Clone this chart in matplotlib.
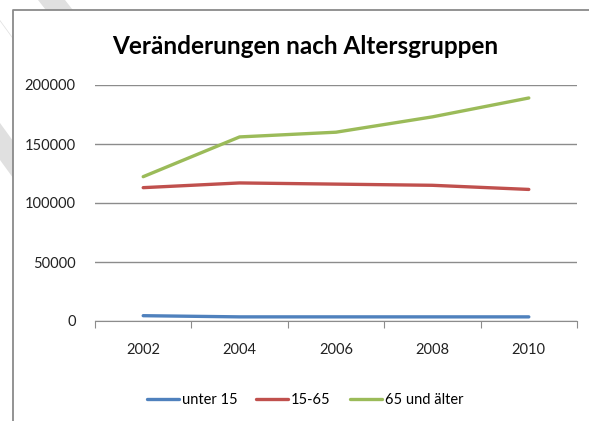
import matplotlib
matplotlib.use("Agg")
import matplotlib.pyplot as plt
from matplotlib.patches import Polygon, Rectangle
from matplotlib.lines import Line2D

years = ["2002", "2004", "2006", "2008", "2010"]
unter_15 = [4500, 3500, 3500, 3500, 3500]
mitte_15_65 = [113000, 117000, 116000, 115000, 111500]
ab_65 = [122300, 156000, 160000, 173000, 189000]

series_names = ["unter 15", "15-65", "65 und älter"]
colors = ["#4F81BD", "#C0504D", "#9BBB59"]

plt.rcParams["font.family"] = ["Lato", "DejaVu Sans"]

W, H = 589, 421
fig = plt.figure(figsize=(W / 100, H / 100), dpi=100)


# pixel coords -> figure coords
def px(x, y):
    return (x / W, 1 - y / H)


# light watermark stripes behind the chart box
for band in [
    [(38, 0), (65, 0), (120, 70), (93, 70)],
    [(-30, -20), (0, 20), (40, 75), (10, 35)],
    [(0, 123), (0, 160), (40, 215), (40, 178)],
]:
    fig.patches.append(Polygon([px(*p) for p in band], closed=True,
                               transform=fig.transFigure, facecolor="#e0e0e0",
                               edgecolor="none", zorder=0))

fig.patches.append(Rectangle(px(13, 421), 1, 411 / H, transform=fig.transFigure,
                             facecolor="white", edgecolor="none", zorder=0.5))
fig.lines.append(Line2D([px(13, 0)[0], px(13, 0)[0], 1], [0, px(0, 10)[1], px(0, 10)[1]],
                        transform=fig.transFigure, color="#8a8a8a", linewidth=1.3,
                        zorder=0.6))

ax = fig.add_axes([95 / W, 1 - 321 / H, 482 / W, 236 / H])
ax.set_facecolor("none")
ax.set_zorder(2)

x = range(len(years))
for vals, name, c in zip([unter_15, mitte_15_65, ab_65], series_names, colors):
    ax.plot(x, vals, color=c, linewidth=2.4, label=name, solid_capstyle="round")

ax.set_xlim(-0.5, len(years) - 0.5)
ax.set_ylim(0, 200000)
ax.set_yticks(range(0, 200001, 50000))
ax.set_yticklabels([str(v) for v in range(0, 200001, 50000)], fontsize=10.5, color="#222222")
ax.yaxis.grid(True, color="#8c8c8c", linewidth=1)
ax.set_axisbelow(True)
ax.tick_params(axis="y", length=0, pad=14)

ax.set_xticks([i - 0.5 for i in range(len(years) + 1)])
ax.set_xticklabels([])
ax.set_xticks(list(x), minor=True)
ax.set_xticklabels(years, minor=True, fontsize=10.5, color="#222222")
ax.tick_params(axis="x", which="major", length=5, color="#8c8c8c", direction="out")
ax.tick_params(axis="x", which="minor", length=0, pad=16)

for s in ["top", "right", "left"]:
    ax.spines[s].set_visible(False)
ax.spines["bottom"].set_color("#8c8c8c")

fig.text(305 / W, 1 - 47 / H, "Veränderungen nach Altersgruppen", ha="center",
         va="center", fontsize=17.5, fontweight="bold", zorder=3)

leg = fig.legend(loc="center", bbox_to_anchor=(305 / W, 1 - 400 / H), ncol=3,
                 frameon=False, fontsize=10.5, handlelength=2.2, handletextpad=0.2,
                 columnspacing=1.3)
leg.set_zorder(3)

fig.savefig("out.png", dpi=100)
